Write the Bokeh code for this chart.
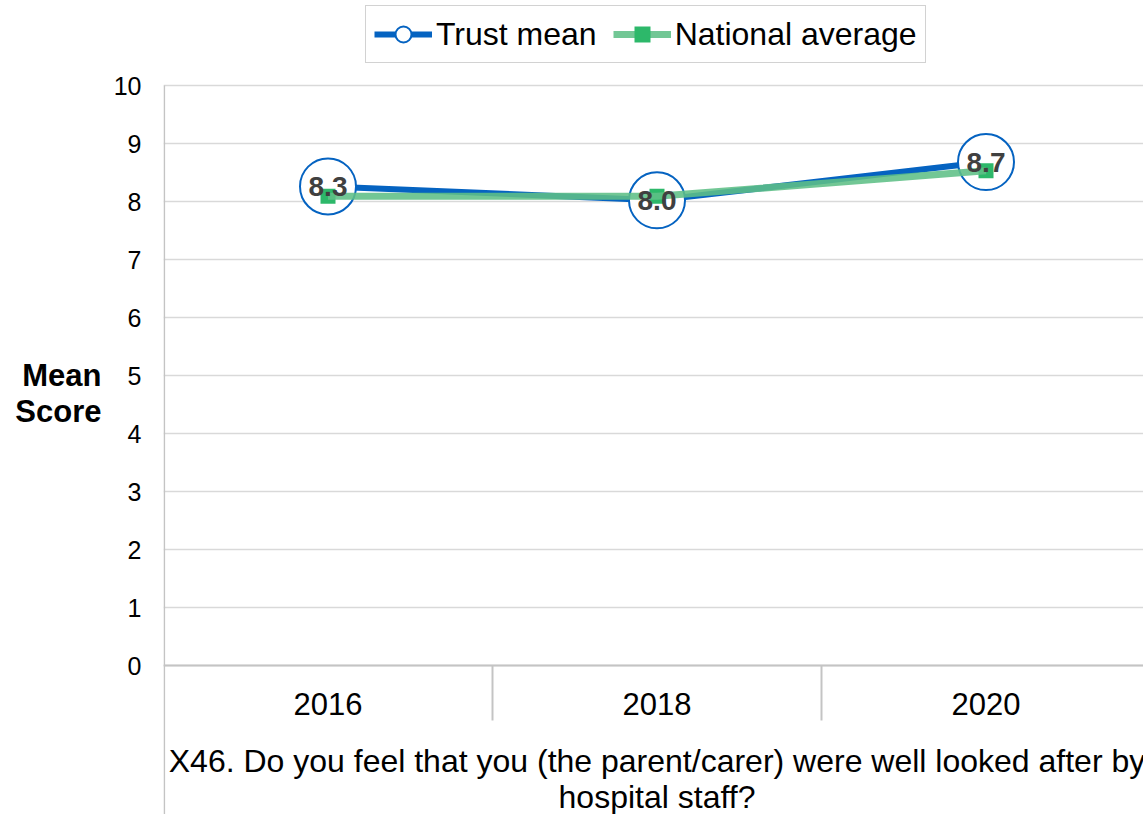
from bokeh.plotting import figure
from bokeh.models import (Range1d, FixedTicker, Legend, LegendItem, LinearAxis,
                          CustomJSTickFormatter)
from bokeh.core.properties import value
from bokeh.embed import file_html
from bokeh.resources import INLINE

# ---- data ----
years = ["2016", "2018", "2020"]
trust_mean = [8.26, 8.02, 8.68]
national_average = [8.09, 8.09, 8.53]
y_ticks = [0, 1, 2, 3, 4, 5, 6, 7, 8, 9, 10]
caption_lines = ["X46. Do you feel that you (the parent/carer) were well looked after by",
                 "hospital staff?"]
y_title_lines = ["Mean", "Score"]
y_title_pos = [5.0, 4.38]

FONT = "Liberation Sans"
PX_PER_UNIT = 58.0
CAT_W = 329.0
W, H = 1143, 814
LEFT = 163
AXIS_TOP_PX = 85          # pixel row of the value 10
frame_w = W - LEFT
y_max = 10 + AXIS_TOP_PX / PX_PER_UNIT
y_min = -(H - AXIS_TOP_PX - 10 * PX_PER_UNIT) / PX_PER_UNIT
x_end = -0.5 + frame_w / CAT_W

xs = list(range(len(years)))

p = figure(width=W, height=H, output_backend="svg", toolbar_location=None,
           x_range=Range1d(-0.5, x_end), y_range=Range1d(y_min, y_max),
           x_axis_location=None,
           min_border_left=LEFT, min_border_right=0, min_border_top=0, min_border_bottom=0)
p.outline_line_color = None
p.background_fill_color = "white"
p.border_fill_color = "white"
p.xgrid.visible = False

ya = p.yaxis[0]
ya.ticker = FixedTicker(ticks=y_ticks)
ya.major_tick_out = 0
ya.major_tick_in = 0
ya.minor_tick_out = 0
ya.minor_tick_in = 0
ya.axis_line_color = None
ya.major_label_text_font = FONT
ya.major_label_text_font_size = "25px"
ya.major_label_text_color = "black"
ya.major_label_standoff = 22

# y-axis title ("Mean" / "Score") as an outer, line-less axis
title_axis = LinearAxis(ticker=FixedTicker(ticks=y_title_pos),
                        formatter=CustomJSTickFormatter(
                            args=dict(names=y_title_lines, pos=y_title_pos),
                            code="""
                            let best = 0;
                            for (let i = 0; i < pos.length; i++) {
                              if (Math.abs(pos[i] - tick) < Math.abs(pos[best] - tick)) best = i;
                            }
                            return names[best];"""),
                        axis_line_color=None, major_tick_out=0, major_tick_in=0,
                        minor_tick_out=0, minor_tick_in=0,
                        major_label_text_font=FONT, major_label_text_font_size="31px",
                        major_label_text_font_style="bold", major_label_text_color="black",
                        major_label_standoff=9)
p.add_layout(title_axis, "left")

p.ygrid.grid_line_color = "#d9d9d9"
p.ygrid.grid_line_width = 1.5

# value-axis line (from 10 down to the bottom edge)
edge_x = -0.5 + 0.8 / CAT_W
p.segment(x0=[edge_x], y0=[10], x1=[edge_x], y1=[y_min], line_color="#c4c4c4", line_width=1.6)

# category-axis baseline and separators
p.segment(x0=[-0.5], y0=[0], x1=[x_end], y1=[0], line_color="#c4c4c4", line_width=2)
sep_x = [i - 0.5 for i in range(1, len(years) + 1)]
p.segment(x0=sep_x, y0=[0] * len(sep_x), x1=sep_x, y1=[-55 / PX_PER_UNIT] * len(sep_x),
          line_color="#c4c4c4", line_width=2)

# year labels
p.text(x=xs, y=[-38 / PX_PER_UNIT] * len(xs), text=years,
       text_font=value(FONT), text_font_size="31px", text_color="black",
       text_align="center", text_baseline="middle")

# caption
cap_y = [-95 / PX_PER_UNIT, -131 / PX_PER_UNIT]
p.text(x=[1.0, 1.0], y=cap_y, text=caption_lines,
       text_font=value(FONT), text_font_size="32px", text_color="black",
       text_align="center", text_baseline="middle")

# series
blue = "#0563C1"
green_line = "#5EBF86"
green_sq = "#2DB86A"

bl = p.line(xs, trust_mean, line_color=blue, line_width=6)
bc = p.scatter(xs, trust_mean, marker="circle", size=56, fill_color="white",
               line_color=blue, line_width=2)
gs = p.scatter(xs, national_average, marker="square", size=15, fill_color=green_sq,
               line_color=None)
gl = p.line(xs, national_average, line_color=green_line, line_width=7, line_alpha=0.88)

labels = ["%.1f" % v for v in trust_mean]
p.text(x=xs, y=trust_mean, text=labels, text_font=value(FONT), text_font_size="28px",
       text_font_style="bold", text_color="#404040",
       text_align="center", text_baseline="middle")

legend = Legend(items=[LegendItem(label="Trust mean", renderers=[bl, bc]),
                       LegendItem(label="National average", renderers=[gl, gs])],
                orientation="horizontal", location=(202, H - 63),
                glyph_width=58, glyph_height=40, padding=8, spacing=16,
                label_standoff=4, label_text_font=FONT, label_text_font_size="32px",
                label_text_color="black", border_line_color="#a6a6a6",
                border_line_width=1.5, background_fill_color="white",
                background_fill_alpha=1.0, margin=0)
p.add_layout(legend)

open("out.html", "w").write(file_html(p, INLINE))
